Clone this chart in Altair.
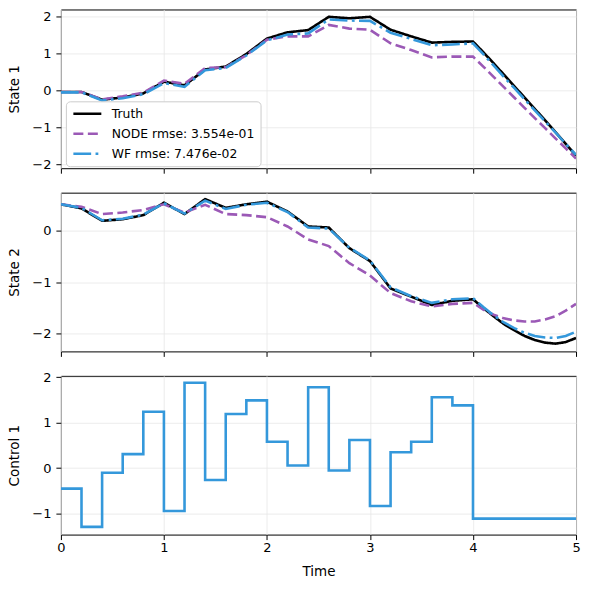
import altair as alt
import pandas as pd

# ---------------- data ----------------
t_state = [0.0, 0.2, 0.4, 0.6, 0.8, 1.0, 1.2, 1.4, 1.6, 1.8, 2.0,
           2.2, 2.4, 2.6, 2.8, 3.0, 3.2, 3.4, 3.6, 3.8, 4.0,
           4.1, 4.2, 4.3, 4.4, 4.5, 4.6, 4.7, 4.8, 4.9, 5.0]

truth_s1 = [-0.04, -0.04, -0.25, -0.19, -0.08, 0.24, 0.14, 0.57, 0.65, 0.99, 1.41,
            1.58, 1.64, 2.00, 1.96, 2.00, 1.65, 1.47, 1.30, 1.32, 1.33,
            1.04, 0.74, 0.43, 0.12, -0.19, -0.50, -0.81, -1.13, -1.45, -1.77]
node_s1 = [-0.04, -0.04, -0.24, -0.16, -0.06, 0.27, 0.18, 0.61, 0.63, 0.96, 1.38,
           1.47, 1.47, 1.78, 1.68, 1.65, 1.28, 1.10, 0.90, 0.92, 0.92,
           0.65, 0.37, 0.09, -0.19, -0.47, -0.75, -1.02, -1.30, -1.57, -1.85]
wf_s1 = [-0.05, -0.05, -0.27, -0.21, -0.10, 0.20, 0.10, 0.55, 0.61, 0.95, 1.36,
         1.52, 1.55, 1.93, 1.90, 1.89, 1.57, 1.40, 1.23, 1.25, 1.28,
         0.99, 0.68, 0.37, 0.07, -0.24, -0.54, -0.84, -1.14, -1.45, -1.75]

truth_s2 = [0.51, 0.43, 0.19, 0.22, 0.30, 0.54, 0.32, 0.61, 0.44, 0.51, 0.56,
            0.37, 0.08, 0.06, -0.34, -0.59, -1.12, -1.28, -1.44, -1.36, -1.33,
            -1.50, -1.66, -1.81, -1.93, -2.04, -2.12, -2.17, -2.19, -2.16, -2.08]
node_s2 = [0.51, 0.46, 0.32, 0.35, 0.40, 0.51, 0.35, 0.50, 0.32, 0.30, 0.26,
           0.08, -0.17, -0.30, -0.63, -0.87, -1.21, -1.37, -1.47, -1.42, -1.40,
           -1.53, -1.63, -1.70, -1.74, -1.76, -1.76, -1.72, -1.66, -1.55, -1.42]
wf_s2 = [0.51, 0.44, 0.20, 0.23, 0.31, 0.53, 0.33, 0.58, 0.42, 0.50, 0.54,
         0.36, 0.06, 0.04, -0.33, -0.58, -1.10, -1.27, -1.40, -1.33, -1.31,
         -1.48, -1.64, -1.78, -1.89, -1.98, -2.04, -2.07, -2.08, -2.04, -1.96]

t_control = [0.0, 0.2, 0.4, 0.6, 0.8, 1.0, 1.2, 1.4, 1.6, 1.8, 2.0,
             2.2, 2.4, 2.6, 2.8, 3.0, 3.2, 3.4, 3.6, 3.8, 4.0, 5.0]
u_control = [-0.45, -1.29, -0.10, 0.31, 1.24, -0.94, 1.88, -0.26, 1.19, 1.49, 0.58,
             0.06, 1.78, -0.05, 0.62, -0.83, 0.35, 0.58, 1.56, 1.38, -1.11, -1.11]

series_names = ["Truth", "NODE rmse: 3.554e-01", "WF rmse: 7.476e-02"]
series_colors = ["#000000", "#9b59b6", "#3498db"]
series_dashes = [[1, 0], [10, 4.5], [17.8, 4.4, 2.8, 4.4]]

x_ticks = [0, 1, 2, 3, 4, 5]

FONT = "DejaVu Sans"
W, H = 516, 159
LW = 2.6


def long_df(tr, nd, wf):
    rows = []
    for name, vals in zip(series_names, [tr, nd, wf]):
        for i, (t, v) in enumerate(zip(t_state, vals)):
            rows.append({"t": t, "v": v, "series": name, "idx": i})
    return pd.DataFrame(rows)


def x_enc(bottom):
    if bottom:
        ax = alt.Axis(values=x_ticks, labelFlush=False, title="Time", grid=True,
                      labelPadding=1.5, titlePadding=10)
    else:
        ax = alt.Axis(values=x_ticks, labels=False, grid=True, labelPadding=0)
    return alt.X("t:Q", scale=alt.Scale(domain=[0, 5], nice=False, zero=False),
                 axis=ax, title="Time" if bottom else None)


def y_enc(title, domain, ticks):
    return alt.Y("v:Q", scale=alt.Scale(domain=domain, nice=False, zero=False),
                 axis=alt.Axis(values=ticks, title=title, grid=True))


def state_panel(df, title, domain, ticks, with_legend):
    if with_legend:
        leg = alt.Legend(title=None, orient="none", legendX=5, legendY=92, padding=6,
                         fillColor="white", strokeColor="#cccccc", cornerRadius=4,
                         labelFont=FONT, labelFontSize=12.4, labelColor="black",
                         symbolType="stroke", symbolSize=784, symbolStrokeWidth=LW,
                         labelOffset=9, rowPadding=7, clipHeight=13)
    else:
        leg = None
    color = alt.Color("series:N", sort=series_names,
                      scale=alt.Scale(domain=series_names, range=series_colors), legend=leg)
    dash = alt.StrokeDash("series:N", sort=series_names,
                          scale=alt.Scale(domain=series_names, range=series_dashes), legend=leg)
    layers = []
    for s in series_names:
        layers.append(
            alt.Chart(df).transform_filter(alt.datum.series == s)
            .mark_line(strokeWidth=LW, clip=True)
            .encode(x=x_enc(False), y=y_enc(title, domain, ticks),
                    color=color, strokeDash=dash, order="idx:Q")
        )
    return alt.layer(*layers).properties(width=W, height=H)


p1 = state_panel(long_df(truth_s1, node_s1, wf_s1), "State 1", [-2.11, 2.2],
                 [-2, -1, 0, 1, 2], True)
p2 = state_panel(long_df(truth_s2, node_s2, wf_s2), "State 2", [-2.34, 0.735],
                 [-2, -1, 0], False)

ctrl_df = pd.DataFrame({"t": t_control, "v": u_control})
p3 = (
    alt.Chart(ctrl_df)
    .mark_line(interpolate="step-after", strokeWidth=LW, color="#3498db", clip=True)
    .encode(x=x_enc(True), y=y_enc("Control 1", [-1.46, 2.03], [-1, 0, 1, 2]))
    .properties(width=W, height=H)
)

chart = (
    alt.vconcat(p1, p2, p3, spacing=24.5, bounds="flush")
    .resolve_scale(color="independent", strokeDash="independent", y="independent")
    .resolve_legend(color="independent", strokeDash="independent")
    .properties(padding={"left": 7, "top": 8, "right": 8, "bottom": 2},
                background="white")
    .configure_view(stroke="black", strokeWidth=1)
    .configure_axis(
        labelFont=FONT, labelFontSize=13, labelColor="black",
        titleFont=FONT, titleFontSize=13.5, titleFontWeight="normal", titleColor="black",
        domain=False, tickColor="black", tickWidth=1, tickSize=5, labelPadding=5,
        gridColor="#e7e7e7", gridWidth=0.8,
    )
    .configure_axisY(minExtent=28, maxExtent=28, titlePadding=11)
)

chart.save("out.html", embed_options={"renderer": "svg", "actions": False})
